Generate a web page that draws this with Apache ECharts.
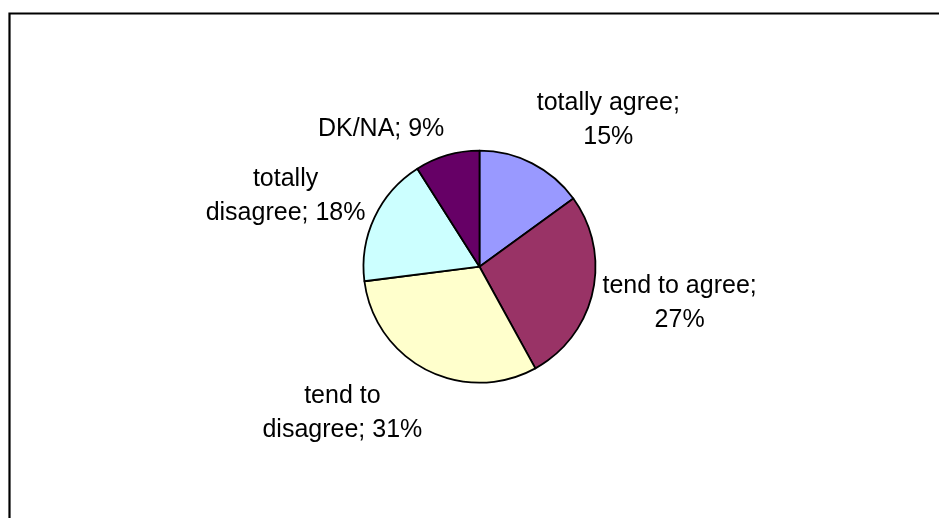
<!DOCTYPE html>
<html>
<head>
<meta charset="utf-8">
<title>Opinion breakdown</title>
<script src="https://cdn.jsdelivr.net/npm/echarts@6/dist/echarts.min.js"></script>
<style>
  html, body { margin: 0; padding: 0; background: #ffffff; }
  #chart { width: 939px; height: 518px; }
</style>
</head>
<body>
<div id="chart"></div>
<script>
// Survey answers, in clockwise order starting at 12 o'clock
const categories = ['totally agree', 'tend to agree', 'tend to disagree', 'totally disagree', 'DK/NA'];
const shares = [15, 27, 31, 18, 9];
const sliceColors = ['#9999FF', '#993366', '#FFFFCC', '#CCFFFF', '#660066'];

const FONT = '"Liberation Sans", Arial, sans-serif';
const FONT_SIZE = 25;
const LINE_HEIGHT = 34;
const WRAP_WIDTH = 170;
const PIE_CENTER = [479.5, 266.7];
const PIE_RADIUS = 116;
const LABEL_GAP = 10;

// word-wrap a label the way the spreadsheet does: fill a line up to WRAP_WIDTH
const measureCtx = document.createElement('canvas').getContext('2d');
measureCtx.font = FONT_SIZE + 'px ' + FONT;
function wrap(text) {
  const words = text.split(' ');
  const lines = [];
  let line = '';
  words.forEach(function (w) {
    const trial = line ? line + ' ' + w : w;
    if (line && measureCtx.measureText(trial).width > WRAP_WIDTH) {
      lines.push(line);
      line = w;
    } else {
      line = trial;
    }
  });
  if (line) lines.push(line);
  return lines.join('\n');
}

const total = shares.reduce(function (a, b) { return a + b; }, 0);
// mid-angle of each slice, degrees counter-clockwise from 3 o'clock
const midAngles = [];
let acc = 0;
shares.forEach(function (v) {
  midAngles.push(90 - 360 * (acc + v / 2) / total);
  acc += v;
});

const chart = echarts.init(document.getElementById('chart'), null, { renderer: 'canvas' });

chart.setOption({
  backgroundColor: '#ffffff',
  animation: false,
  graphic: [{
    // frame: only the top and left edges fall inside the view
    type: 'polyline',
    shape: { points: [[9.5, 600], [9.5, 13.5], [1200, 13.5]] },
    style: { fill: null, stroke: '#000000', lineWidth: 2.2 },
    silent: true,
    z: 100
  }],
  series: [{
    type: 'pie',
    center: PIE_CENTER,
    radius: PIE_RADIUS,
    startAngle: 90,
    clockwise: true,
    avoidLabelOverlap: false,
    silent: true,
    emphasis: { disabled: true },
    data: categories.map(function (name, i) {
      return { name: name, value: shares[i], itemStyle: { color: sliceColors[i] } };
    }),
    itemStyle: { borderColor: '#000000', borderWidth: 1.8 },
    label: {
      show: true,
      position: 'outside',
      color: '#000000',
      fontFamily: FONT,
      fontSize: FONT_SIZE,
      lineHeight: LINE_HEIGHT,
      formatter: function (p) { return wrap(p.name + '; ' + p.value + '%'); }
    },
    labelLine: { show: false },
    labelLayout: function (params) {
      const a = midAngles[params.dataIndex] * Math.PI / 180;
      const c = Math.cos(a), s = Math.sin(a);
      const d = PIE_RADIUS + LABEL_GAP;
      const px = PIE_CENTER[0] + d * c;
      const py = PIE_CENTER[1] - d * s;
      const w = params.labelRect.width;
      const h = params.labelRect.height;
      const vy = Math.sign(s) * Math.min(1, Math.abs(s) * 1.2);
      return {
        x: px + Math.sign(c) * w / 2,
        y: py - vy * h / 2,
        align: 'center',
        verticalAlign: 'middle'
      };
    }
  }]
});
</script>
</body>
</html>
